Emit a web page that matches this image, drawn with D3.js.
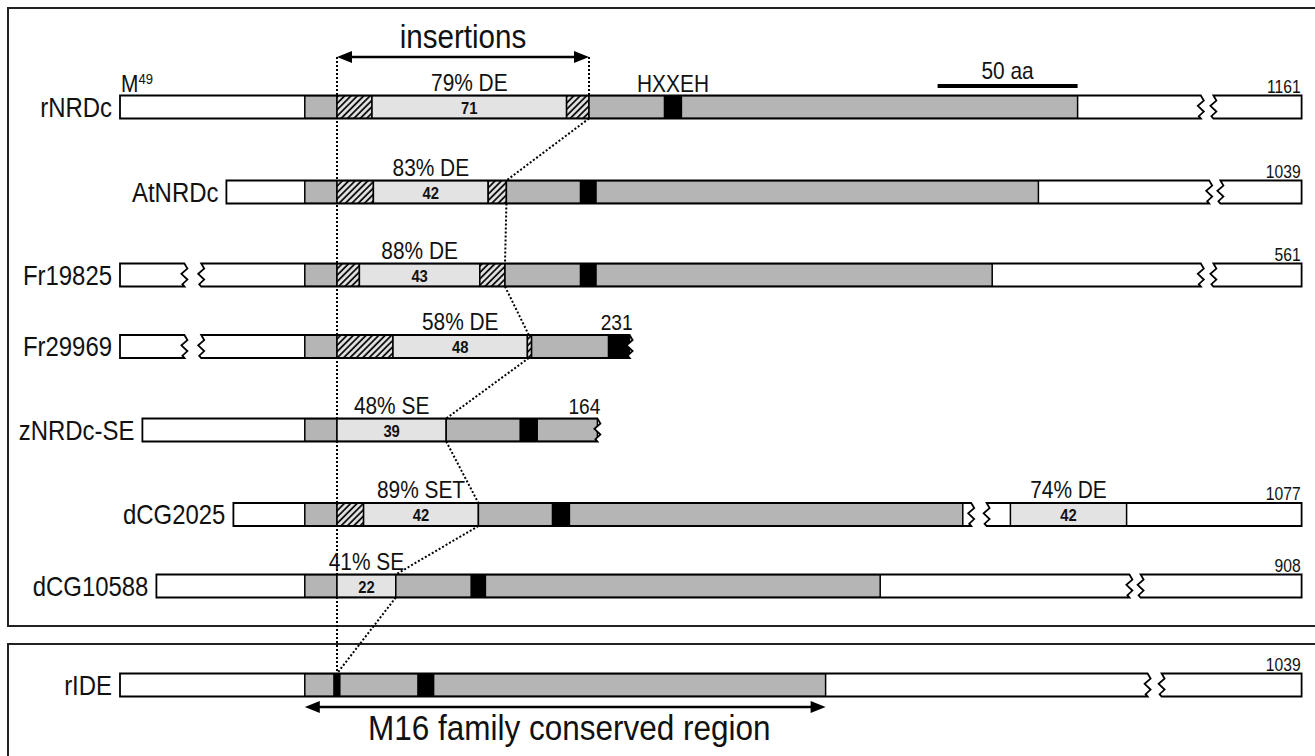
<!DOCTYPE html>
<html><head><meta charset="utf-8">
<script src="https://cdn.jsdelivr.net/npm/d3@7"></script>
<style>html,body{margin:0;padding:0;background:#fff;} svg{display:block;}</style>
</head><body>
<svg id="fig" width="1315" height="756"></svg>
<script>
// Protein names, top to bottom
const proteins = ["rNRDc", "AtNRDc", "Fr19825", "Fr29969", "zNRDc-SE", "dCG2025", "dCG10588", "rIDE"];
// Drawn extent of each protein (schematic residue coordinates)
const boxStart = [0, 38, 0, 0, 8, 40.5, 13, 0];
const boxEnd   = [422, 422, 422, 182, 170.5, 422, 422, 422];
// Sequences shown only partially end with a ragged edge
const raggedEnd = [false, false, false, true, true, false, false, false];
// Omitted stretches (break marks)
const gaps = [
  [[386, 390.5]],
  [[389, 393]],
  [[23, 29], [386, 390.5]],
  [[23, 29]],
  [],
  [[304, 309.5]],
  [[360.5, 364.5]],
  [[367, 372]]
];
// Domains: [start, end, kind, insertion length, composition]
const domains = [
  [[66,77.5,"core"],[77.5,90,"hatch"],[90,159.5,"ins",71,"79% DE"],[159.5,167.5,"hatch"],[167.5,194.5,"core"],[194.5,200.5,"motif"],[200.5,342,"core"]],
  [[66,77.5,"core"],[77.5,90.5,"hatch"],[90.5,131.5,"ins",42,"83% DE"],[131.5,138,"hatch"],[138,164.5,"core"],[164.5,170,"motif"],[170,328,"core"]],
  [[66,77.5,"core"],[77.5,85.5,"hatch"],[85.5,128.5,"ins",43,"88% DE"],[128.5,137.5,"hatch"],[137.5,164.5,"core"],[164.5,170,"motif"],[170,311.5,"core"]],
  [[66,77.5,"core"],[77.5,97.5,"hatch"],[97.5,145.5,"ins",48,"58% DE"],[145.5,147,"hatch"],[147,174.5,"core"],[174.5,182,"motif"]],
  [[66,77.5,"core"],[77.5,116.5,"ins",39,"48% SE"],[116.5,143,"core"],[143,149,"motif"],[149,170.5,"core"]],
  [[66,77.5,"core"],[77.5,87,"hatch"],[87,128,"ins",42,"89% SET"],[128,154.5,"core"],[154.5,160.5,"motif"],[160.5,301,"core"],[318,359.5,"ins",42,"74% DE"]],
  [[66,77.5,"core"],[77.5,98.5,"ins",22,"41% SE"],[98.5,125.5,"core"],[125.5,130.5,"motif"],[130.5,271.5,"core"]],
  [[66,76.5,"core"],[76.5,78.5,"motif"],[78.5,106.5,"core"],[106.5,112,"motif"],[112,252,"core"]]
];
// Full-length residue counts printed at the C-terminus
const lengths = ["1161", "1039", "561", "231", "164", "1077", "908", "1039"];
// Insertion boundaries aligned across the family
const insertionStart = 77.5;
const insertionEnds = [167.5, 138, 137.5, 146, 116.5, 128, 98.5, 77.5];
const scaleBarAa = 50;

const svg = d3.select("#fig");
const FONT = "'Liberation Sans', Arial, Helvetica, sans-serif";
const INK = "#111";
const SX = 0.87; // narrow lettering
const x = d3.scaleLinear().domain([0, 422]).range([120, 1301.6]);
const rowY = [107, 192, 275, 346.5, 430, 514.5, 586, 685];
const barH = 23;
const fills = { core: "#b5b5b5", ins: "#e3e3e3", hatch: "url(#hatch)", motif: "#000" };

const defs = svg.append("defs");
const pat = defs.append("pattern").attr("id", "hatch")
  .attr("patternUnits", "userSpaceOnUse").attr("width", 4.5).attr("height", 4.5)
  .attr("patternTransform", "rotate(45)");
pat.append("rect").attr("width", 4.5).attr("height", 4.5).attr("fill", "#e2e2e2");
pat.append("line").attr("x1", 1).attr("y1", 0).attr("x2", 1).attr("y2", 4.5)
  .attr("stroke", "#000").attr("stroke-width", 1.7);

// text helper with horizontally condensed lettering
function label(g, px, py, str, size, anchor = "start", weight = "normal", sx = SX) {
  return g.append("text")
    .attr("transform", `translate(${px},${py}) scale(${sx},1)`)
    .attr("text-anchor", anchor).attr("font-size", size).attr("font-weight", weight)
    .attr("font-family", FONT).attr("fill", INK).text(str);
}

// panel frames
svg.append("rect").attr("x", 8).attr("y", 8).attr("width", 1340).attr("height", 618)
  .attr("fill", "none").attr("stroke", "#222").attr("stroke-width", 2);
svg.append("rect").attr("x", 8).attr("y", 644).attr("width", 1340).attr("height", 160)
  .attr("fill", "none").attr("stroke", "#222").attr("stroke-width", 2);

const barTop = i => rowY[i] - barH / 2;
const barBot = i => rowY[i] + barH / 2;
const arrowY = 57;

// dotted alignment guides (behind the bars)
const guides = svg.append("g").attr("fill", "none").attr("stroke", "#000")
  .attr("stroke-width", 2).attr("stroke-dasharray", "2,2");
guides.append("line").attr("x1", x(insertionStart)).attr("x2", x(insertionStart))
  .attr("y1", arrowY).attr("y2", barTop(proteins.length - 1));
guides.append("line").attr("x1", x(insertionEnds[0])).attr("x2", x(insertionEnds[0]))
  .attr("y1", arrowY).attr("y2", barTop(0));
d3.pairs(d3.range(proteins.length)).forEach(([a, b]) => {
  guides.append("line")
    .attr("x1", x(insertionEnds[a])).attr("y1", barBot(a))
    .attr("x2", x(insertionEnds[b])).attr("y2", barTop(b));
});

// zig-zag edge points from top to bottom at position px
function zig(px, t, b) {
  const h = b - t;
  return [[px, t], [px + 3, t + h * 0.22], [px - 3, t + h * 0.45], [px + 3, t + h * 0.7], [px - 2, t + h * 0.9], [px, b]];
}

const bars = svg.append("g");
proteins.forEach((name, i) => {
  const t = barTop(i), b = barBot(i);
  // split the box into visible pieces around the gaps
  const pieces = [];
  let s = boxStart[i];
  gaps[i].forEach(g => { pieces.push([s, g[0], s !== boxStart[i], true]); s = g[1]; });
  pieces.push([s, boxEnd[i], s !== boxStart[i], raggedEnd[i]]);

  pieces.forEach((p, k) => {
    const [p0, p1, zl, zr] = p;
    const x0 = x(p0), x1 = x(p1);
    const right = zr ? zig(x1, t, b) : [[x1, t], [x1, b]];
    const left = (zl ? zig(x0, t, b) : [[x0, t], [x0, b]]).reverse();
    const pts = right.concat(left);
    const d = "M" + pts.map(q => q.join(",")).join("L") + "Z";
    const cid = `clip-${i}-${k}`;
    defs.append("clipPath").attr("id", cid).append("path").attr("d", d);
    const g = bars.append("g");
    g.append("path").attr("d", d).attr("fill", "#fff");
    const inner = g.append("g").attr("clip-path", `url(#${cid})`);
    domains[i].filter(dm => dm[1] > p0 && dm[0] < p1).forEach(dm => {
      inner.append("rect").attr("x", x(dm[0])).attr("y", t)
        .attr("width", x(dm[1]) - x(dm[0])).attr("height", barH)
        .attr("fill", fills[dm[2]]).attr("stroke", "#000").attr("stroke-width", 1.5);
    });
    g.append("path").attr("d", d).attr("fill", "none").attr("stroke", "#000")
      .attr("stroke-width", 1.8).attr("stroke-linejoin", "miter");
  });

  // name
  label(bars, x(boxStart[i]) - 8, rowY[i] + 9.5, name, 27.5, "end");

  // insertion length and composition
  domains[i].filter(dm => dm[2] === "ins").forEach(dm => {
    const cx = x((dm[0] + dm[1]) / 2);
    label(bars, cx, rowY[i] + 6.5, dm[3], 17, "middle", "bold");
    label(bars, cx, t - 5, dm[4], 24, "middle");
  });

  // C-terminal length
  label(bars, x(boxEnd[i]) + (raggedEnd[i] ? 3 : -1), t - (raggedEnd[i] ? 5 : 3),
    lengths[i], raggedEnd[i] ? 22 : 18, "end");
});

// annotations on the first protein
const ann = svg.append("g");
const m49 = label(ann, x(boxStart[0]) + 1, barTop(0) - 4, "", 24);
m49.append("tspan").text("M");
m49.append("tspan").attr("font-size", 15).attr("dy", -8).text("49");

const motif0 = domains[0].find(dm => dm[2] === "motif");
label(ann, x((motif0[0] + motif0[1]) / 2), barTop(0) - 4, "HXXEH", 24, "middle");

// scale bar aligned to the end of the conserved core
const coreEnd0 = d3.max(domains[0].filter(dm => dm[2] === "core"), dm => dm[1]);
ann.append("line").attr("x1", x(coreEnd0 - scaleBarAa)).attr("x2", x(coreEnd0))
  .attr("y1", 86).attr("y2", 86).attr("stroke", "#000").attr("stroke-width", 4);
label(ann, x(coreEnd0 - scaleBarAa / 2), 79, `${scaleBarAa} aa`, 24, "middle");

// double-headed arrows
function arrow(xa, xb, y) {
  const hl = 15, hw = 6;
  const g = svg.append("g");
  g.append("line").attr("x1", xa + hl - 2).attr("x2", xb - hl + 2).attr("y1", y).attr("y2", y)
    .attr("stroke", "#000").attr("stroke-width", 2.5);
  g.append("path").attr("d", `M${xa},${y}L${xa + hl},${y - hw}L${xa + hl},${y + hw}Z`).attr("fill", "#000");
  g.append("path").attr("d", `M${xb},${y}L${xb - hl},${y - hw}L${xb - hl},${y + hw}Z`).attr("fill", "#000");
}
arrow(x(insertionStart), x(insertionEnds[0]), arrowY);
label(ann, x((insertionStart + insertionEnds[0]) / 2), 48, "insertions", 34, "middle");

const last = proteins.length - 1;
const cores = domains[last].filter(dm => dm[2] === "core");
const cStart = d3.min(cores, dm => dm[0]), cEnd = d3.max(cores, dm => dm[1]);
arrow(x(cStart), x(cEnd), 707);
label(ann, x((cStart + cEnd) / 2) + 4, 740, "M16 family conserved region", 35, "middle", "normal", 0.9);
</script>
</body></html>
